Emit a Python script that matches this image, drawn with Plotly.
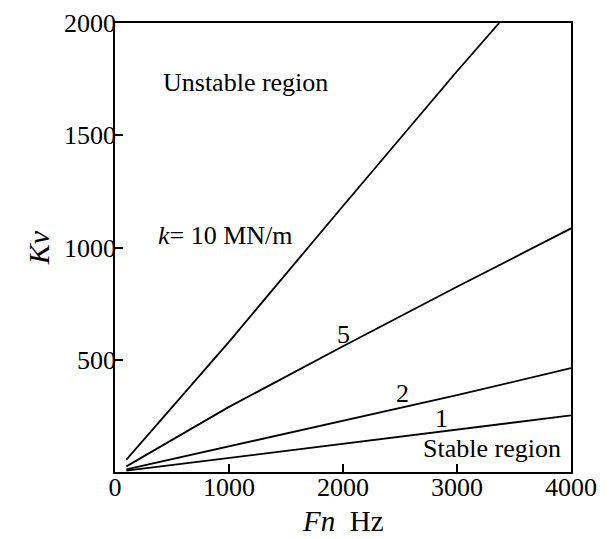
import plotly.graph_objects as go

# Data
fn_k10 = [100, 1000, 2000, 3000, 3370]
kv_k10 = [55, 580, 1185, 1785, 2000]

fn_k5 = [100, 1000, 2000, 3000, 4000]
kv_k5 = [25, 290, 560, 825, 1085]

fn_k2 = [100, 1000, 2000, 3000, 4000]
kv_k2 = [12, 115, 230, 342, 463]

fn_k1 = [100, 1000, 2000, 3000, 4000]
kv_k1 = [6, 63, 127, 192, 252]

x_ticks = [0, 1000, 2000, 3000, 4000]
x_tick_text = ["0", "1000", "2000", "3000", "4000"]
y_ticks = [500, 1000, 1500, 2000]
y_tick_text = ["500", "1000", "1500", "2000"]

series = [
    ("k = 10 MN/m", fn_k10, kv_k10),
    ("5", fn_k5, kv_k5),
    ("2", fn_k2, kv_k2),
    ("1", fn_k1, kv_k1),
]

FONT = "Liberation Serif, Times New Roman, serif"

fig = go.Figure()
for name, xs, ys in series:
    fig.add_trace(go.Scatter(x=xs, y=ys, mode="lines", name=name,
                             line=dict(color="black", width=1.8),
                             showlegend=False))

annotations = [
    dict(x=405, y=1736, text="Unstable region", xanchor="left", size=26),
    dict(x=360, y=1053, text="<i>k</i>= 10 MN/m", xanchor="left", size=26),
    dict(x=2000, y=612, text="5", xanchor="center", size=26),
    dict(x=2526, y=348, text="2", xanchor="center", size=26),
    dict(x=2860, y=238, text="1", xanchor="center", size=26),
    dict(x=3930, y=106, text="Stable region", xanchor="right", size=26),
]
for a in annotations:
    fig.add_annotation(x=a["x"], y=a["y"], xref="x", yref="y", text=a["text"],
                       xanchor=a["xanchor"], yanchor="middle", showarrow=False,
                       font=dict(family=FONT, size=a["size"], color="black"))

# x-axis title placed just below the tick labels
fig.add_annotation(x=0.5, y=-0.109, xref="paper", yref="paper",
                   text="<i>Fn</i>  Hz", xanchor="center", yanchor="middle",
                   showarrow=False,
                   font=dict(family=FONT, size=29, color="black"))

fig.update_xaxes(range=[0, 4000], tickvals=x_ticks, ticktext=x_tick_text,
                 ticks="inside", ticklen=8, tickwidth=1.5, tickcolor="black",
                 ticklabelstandoff=-9, ticklabeloverflow="allow",
                 showline=True, linecolor="black", linewidth=1.6, mirror=True,
                 showgrid=False, zeroline=False,
                 tickfont=dict(family=FONT, size=26, color="black"))
fig.update_yaxes(range=[0, 2000], tickvals=y_ticks, ticktext=y_tick_text,
                 ticks="inside", ticklen=8, tickwidth=1.5, tickcolor="black",
                 ticklabelstandoff=-8, ticklabeloverflow="allow",
                 showline=True, linecolor="black", linewidth=1.6, mirror=True,
                 showgrid=False, zeroline=False,
                 tickfont=dict(family=FONT, size=26, color="black"),
                 title=dict(text="<i>Kv</i>", standoff=6,
                            font=dict(family=FONT, size=30, color="black")))

# The page body has an 8px default margin, so the figure is offset by 8px.
fig.update_layout(width=605, height=531,
                  margin=dict(l=107, r=42, t=15, b=67, autoexpand=False),
                  plot_bgcolor="white", paper_bgcolor="white",
                  showlegend=False)

fig.write_html("out.html")
